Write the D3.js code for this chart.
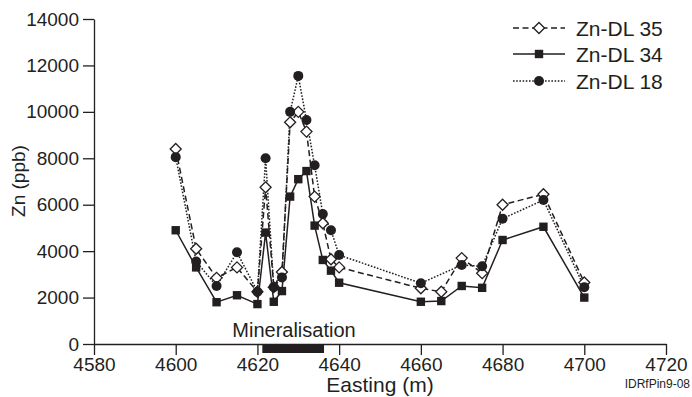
<!DOCTYPE html>
<html>
<head>
<meta charset="utf-8">
<script src="https://cdn.jsdelivr.net/npm/d3@7"></script>
<style>
  html, body { margin: 0; padding: 0; background: #fff; }
  svg text { font-family: "Liberation Sans", Arial, sans-serif; fill: #231f20; }
</style>
</head>
<body>
<svg id="chart" width="692" height="397"></svg>
<script>
// ---- data ----
const eastingDL35 = [4600,4605,4610,4615,4620,4622,4624,4626,4628,4630,4632,4634,4636,4638,4640,4660,4665,4670,4675,4680,4690,4700];
const znDL35      = [8400,4100,2850,3300,2250,6750,2450,3100,9550,10000,9150,6350,5200,3650,3300,2400,2250,3700,3050,6000,6450,2650];

const eastingDL34 = [4600,4605,4610,4615,4620,4622,4624,4626,4628,4630,4632,4634,4636,4638,4640,4660,4665,4670,4675,4680,4690,4700];
const znDL34      = [4900,3300,1800,2100,1720,4800,1820,2280,6350,7100,7450,5100,3620,3160,2640,1820,1850,2500,2420,4480,5050,2000];

const eastingDL18 = [4600,4605,4610,4615,4620,4622,4624,4626,4628,4630,4632,4634,4636,4638,4640,4660,4670,4675,4680,4690,4700];
const znDL18      = [8050,3550,2500,3950,2250,8000,2450,2870,10000,11550,9650,7700,5600,4900,3830,2620,3400,3350,5400,6200,2450];

const seriesNames = ["Zn-DL 35", "Zn-DL 34", "Zn-DL 18"];
const xTicks = [4580,4600,4620,4640,4660,4680,4700,4720];
const yTicks = [0,2000,4000,6000,8000,10000,12000,14000];
const mineralisation = [4621.2, 4636.3];

// ---- layout ----
const svg = d3.select("#chart");
const ink = "#231f20";
const x = d3.scaleLinear().domain([4580, 4720]).range([94, 666]);
const y = d3.scaleLinear().domain([0, 14000]).range([344, 19]);

// axes
const yAxis = d3.axisLeft(y).tickValues(yTicks).tickSize(11).tickSizeOuter(0).tickPadding(4).tickFormat(d3.format("d"));
const gy = svg.append("g").attr("transform", `translate(${x.range()[0]},0)`).call(yAxis);
const xAxis = d3.axisBottom(x).tickValues(xTicks).tickSize(11).tickSizeOuter(0).tickPadding(3).tickFormat(d3.format("d"));
const gx = svg.append("g").attr("transform", `translate(0,${y(0)})`).call(xAxis);
[gx, gy].forEach(g => {
  g.select(".domain").attr("stroke", ink).attr("stroke-width", 1.3);
  g.selectAll(".tick line").attr("stroke", ink).attr("stroke-width", 1.3);
  g.selectAll(".tick text").attr("font-size", 19).attr("fill", ink)
    .style("font-family", '"Liberation Sans", Arial, sans-serif');
});

// mineralisation bar
svg.append("rect")
  .attr("x", x(mineralisation[0])).attr("y", y(0) + 1)
  .attr("width", x(mineralisation[1]) - x(mineralisation[0])).attr("height", 8)
  .attr("fill", "#231f20");
svg.append("text").attr("x", 294).attr("y", 337).attr("text-anchor", "middle")
  .attr("font-size", 20).text("Mineralisation");

// axis titles
svg.append("text").attr("x", 380).attr("y", 392).attr("text-anchor", "middle")
  .attr("font-size", 21).text("Easting (m)");
svg.append("text").attr("transform", "translate(25,181) rotate(-90)").attr("text-anchor", "middle")
  .attr("font-size", 19).text("Zn (ppb)");
svg.append("text").attr("x", 690).attr("y", 388).attr("text-anchor", "end")
  .attr("font-size", 12).style("font-family", '"Liberation Sans Narrow", "Liberation Sans", Arial, sans-serif')
  .text("IDRfPin9-08");

// series
const series = [
  { name: seriesNames[0], xs: eastingDL35, ys: znDL35, dash: "6,3.5", marker: "diamond" },
  { name: seriesNames[1], xs: eastingDL34, ys: znDL34, dash: null, marker: "square" },
  { name: seriesNames[2], xs: eastingDL18, ys: znDL18, dash: "1.6,1.6", marker: "circle" }
];

const line = d3.line().x(d => x(d[0])).y(d => y(d[1]));

function drawMarker(g, type, cx, cy) {
  if (type === "diamond") {
    g.append("path").attr("d", `M${cx},${cy-5.5}L${cx+5.5},${cy}L${cx},${cy+5.5}L${cx-5.5},${cy}Z`)
      .attr("fill", "#fff").attr("stroke", ink).attr("stroke-width", 1.3);
  } else if (type === "square") {
    g.append("rect").attr("x", cx - 4.2).attr("y", cy - 4.2).attr("width", 8.4).attr("height", 8.4)
      .attr("fill", ink);
  } else {
    g.append("circle").attr("cx", cx).attr("cy", cy).attr("r", 5).attr("fill", ink);
  }
}

// lines first
series.forEach(s => {
  const pts = s.xs.map((e, i) => [e, s.ys[i]]);
  svg.append("path").datum(pts).attr("d", line)
    .attr("fill", "none").attr("stroke", ink).attr("stroke-width", 1.5)
    .attr("stroke-dasharray", s.dash);
});
// markers
series.forEach(s => {
  const g = svg.append("g");
  s.xs.forEach((e, i) => drawMarker(g, s.marker, x(e), y(s.ys[i])));
});

// legend
const legY = [28, 54, 81];
series.forEach((s, i) => {
  const g = svg.append("g");
  g.append("line").attr("x1", 513).attr("x2", 565).attr("y1", legY[i]).attr("y2", legY[i])
    .attr("stroke", ink).attr("stroke-width", 1.5).attr("stroke-dasharray", s.dash);
  drawMarker(g, s.marker, 539, legY[i]);
  g.append("text").attr("x", 576).attr("y", legY[i] + 7.5).attr("font-size", 21).text(s.name);
});
</script>
</body>
</html>
